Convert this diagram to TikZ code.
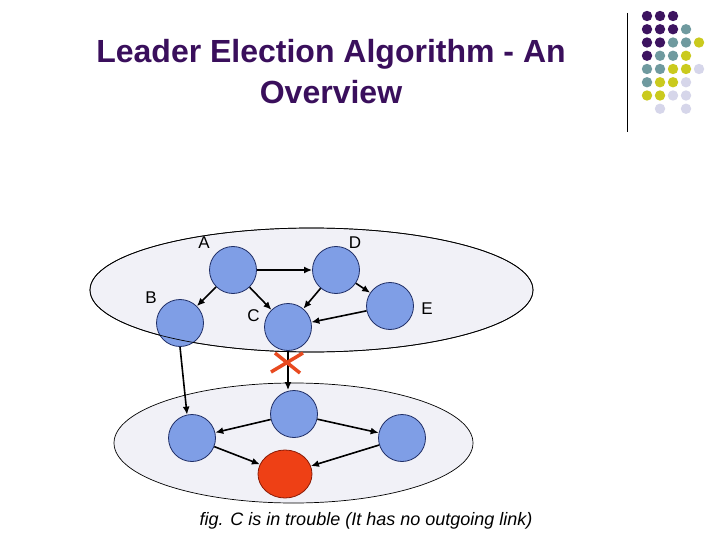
\documentclass[tikz,border=0pt]{standalone}
\usepackage{fontspec}
\setmainfont{Liberation Sans}
\usetikzlibrary{shapes.geometric,arrows.meta}
\definecolor{titlepurple}{HTML}{3A0F5C}
\definecolor{nodeblue}{HTML}{7F9EE6}
\definecolor{nodeedge}{HTML}{1F2E66}
\definecolor{leaderred}{HTML}{EE4015}
\definecolor{rededge}{HTML}{8A1A05}
\definecolor{crossred}{HTML}{E84A20}
\definecolor{clusterfill}{HTML}{F1F1F7}
\definecolor{dotP}{HTML}{3D1460}
\definecolor{dotT}{HTML}{6F9A9F}
\definecolor{dotY}{HTML}{CACA1E}
\definecolor{dotL}{HTML}{D6D6EA}

\begin{document}
\begin{tikzpicture}[x=1pt,y=-1pt,
    proc/.style={circle,draw=nodeedge,fill=nodeblue,line width=0.8pt,minimum size=47pt,inner sep=0pt},
    lead/.style={ellipse,draw=rededge,fill=leaderred,line width=0.8pt,minimum width=54pt,minimum height=48pt,inner sep=0pt},
    lbl/.style={font=\fontsize{17}{17}\selectfont,inner sep=0pt},
    link/.style={-{Latex[length=8pt,width=7pt]},line width=1.6pt},
    cluster/.style={draw=black,line width=0.7pt}]
\path[use as bounding box,fill=white] (0,0) rectangle (720,540);
\node[titlepurple,font=\fontsize{32}{41}\selectfont\bfseries,align=center,anchor=north,inner sep=0pt]
    (title) at (331,39) {Leader Election Algorithm - An\\Overview};
% dots in the corner
\draw[line width=0.8pt] (627,13) -- (627,132);
\foreach \row [count=\r] in {{dotP,dotP,dotP},{dotP,dotP,dotP,dotT},
    {dotP,dotP,dotT,dotT,dotY},{dotP,dotT,dotT,dotY},{dotT,dotT,dotY,dotY,dotL},
    {dotT,dotY,dotY,dotL},{dotY,dotY,dotL,dotL},{none,dotL,none,dotL}}
  \foreach \c [count=\i] in \row
    \fill[fill=\c] (634+13*\i,2.75+13.25*\r) circle [radius=5.2pt];
% the two groups
\draw[cluster,fill=clusterfill] (293.5,443) ellipse [x radius=179.5pt,y radius=60pt];
\draw[cluster,fill=clusterfill] (311.5,290) ellipse [x radius=221.5pt,y radius=62pt];
\node[proc] (A) at (233,270) {};
\node[proc] (D) at (336,270) {};
\node[proc] (B) at (180,323) {};
\node[proc] (C) at (288,327) {};
\node[proc] (E) at (390,306) {};
\node[proc] (F) at (192,438) {};
\node[proc] (G) at (294,414) {};
\node[proc] (H) at (402,438) {};
\node[lead] (L) at (285,474) {};
\draw[cluster] (311.5,290) ellipse [x radius=221.5pt,y radius=62pt];
\node[lbl] (labA) at (204,243) {A};
\node[lbl] (labD) at (355,242.5) {D};
\node[lbl] (labB) at (151,298) {B};
\node[lbl] (labC) at (253.5,315.5) {C};
\node[lbl] (labE) at (427,309) {E};
\foreach \from/\to in {A/D,A/B,A/C,D/C,D/E,E/C,B.south/F.102,
    C.south/C.south |- G.north,G/F,G/H,F/L,H/L}
  \draw[link] (\from) -- (\to);
\draw[crossred,line width=3.5pt] (271,372) -- (303,353) (275,353) -- (300,373);
\node[font=\fontsize{18}{18}\selectfont\itshape,anchor=base,inner sep=0pt]
    (caption) at (366,525) {fig. C is in trouble (It has no outgoing link)};
\end{tikzpicture}
\end{document}
